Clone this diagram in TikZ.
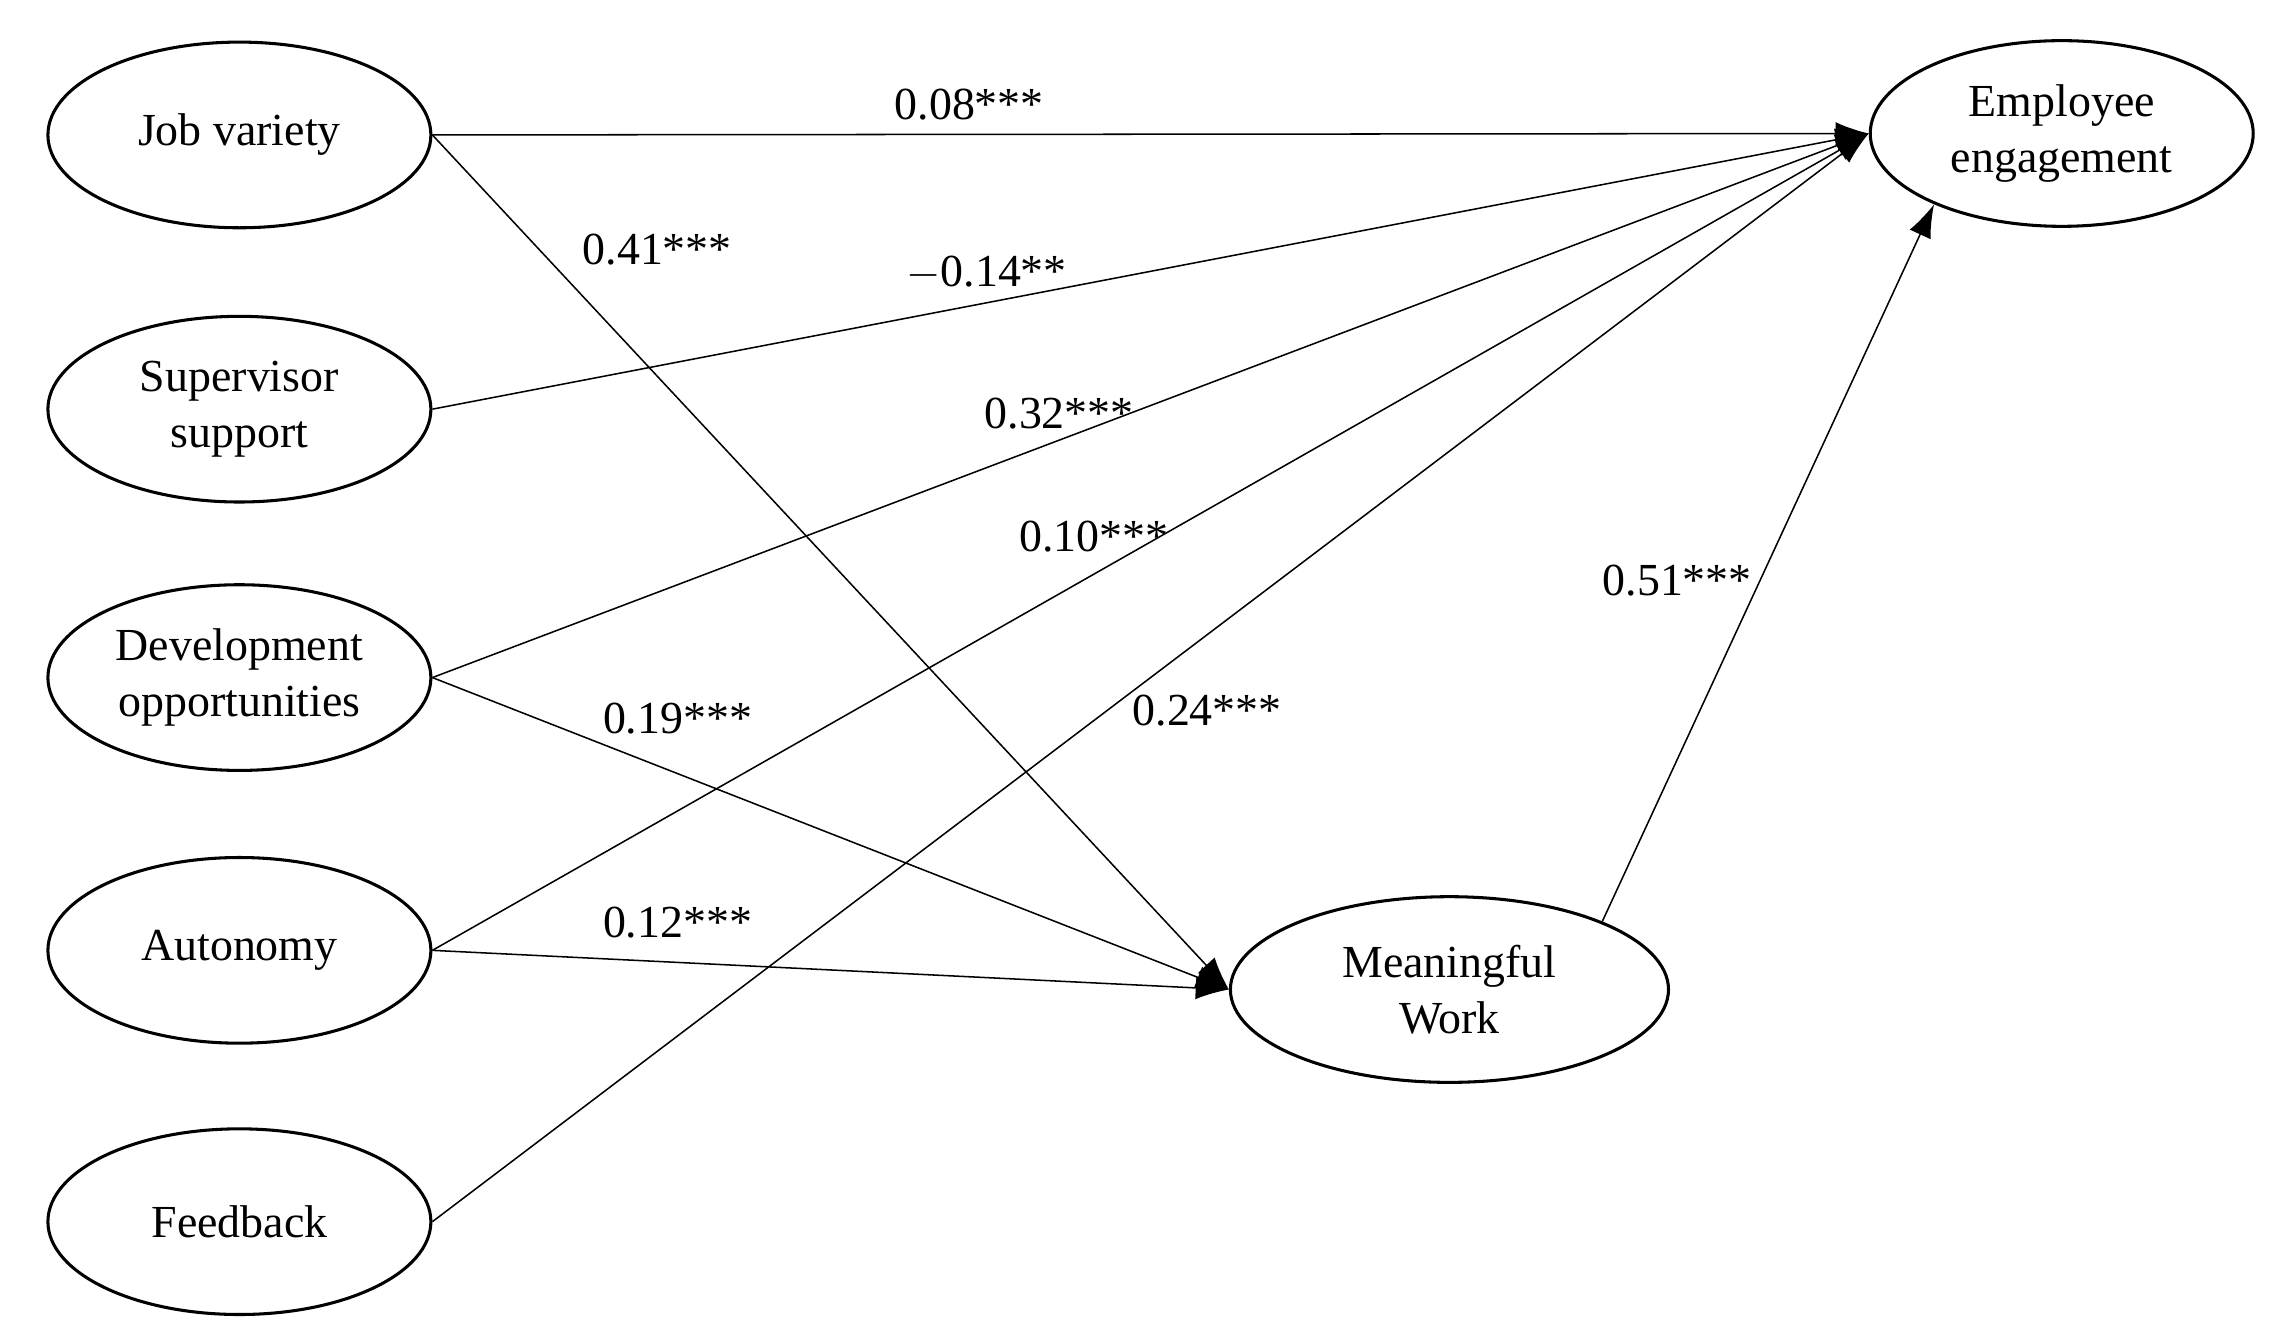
\documentclass[tikz,border=0pt]{standalone}
\usepackage{fontspec}
\setmainfont{Liberation Serif}
\usetikzlibrary{shapes.geometric,arrows.meta}
\begin{document}
\begin{tikzpicture}[x=0.02cm,y=-0.02cm,
  lat/.style={ellipse,draw,line width=1.2pt,minimum width=5.28cm,minimum height=2.56cm,align=center,font=\fontsize{18}{22}\selectfont,inner sep=0pt},
  path/.style={line width=0.6pt,-{Latex[length=13pt,width=9pt]}},
  lab/.style={font=\fontsize{18}{22}\selectfont}]
\useasboundingbox (0,0) rectangle (1568,924);
\node[lat] (jv) at (165,93) {Job variety};
\node[lat] (ss) at (165,282) {Supervisor\\support};
\node[lat] (do) at (165,467) {Development\\opportunities};
\node[lat] (au) at (165,655) {Autonomy};
\node[lat] (fb) at (165,842) {Feedback};
\node[lat] (ee) at (1421,92) {Employee\\engagement};
\node[lat,minimum width=6.04cm] (mw) at (999,682) {Meaningful\\Work};
\foreach \s in {jv,ss,do,au,fb} \draw[path] (\s.east) -- (ee.west);
\foreach \s in {jv,do,au} \draw[path] (\s.east) -- (mw.west);
\draw[path] (mw.24) -- (ee.209);
\node[lab] (l1) at (668,72) {0.08***};
\node[lab] (l2) at (453,172) {0.41***};
\node[lab] (l3) at (680,188) {$-$0.14**};
\node[lab] (l4) at (730,285) {0.32***};
\node[lab] (l5) at (754,370) {0.10***};
\node[lab] (l6) at (1156,400) {0.51***};
\node[lab] (l7) at (467,495) {0.19***};
\node[lab] (l8) at (832,490) {0.24***};
\node[lab] (l9) at (467,636) {0.12***};
\end{tikzpicture}
\end{document}
